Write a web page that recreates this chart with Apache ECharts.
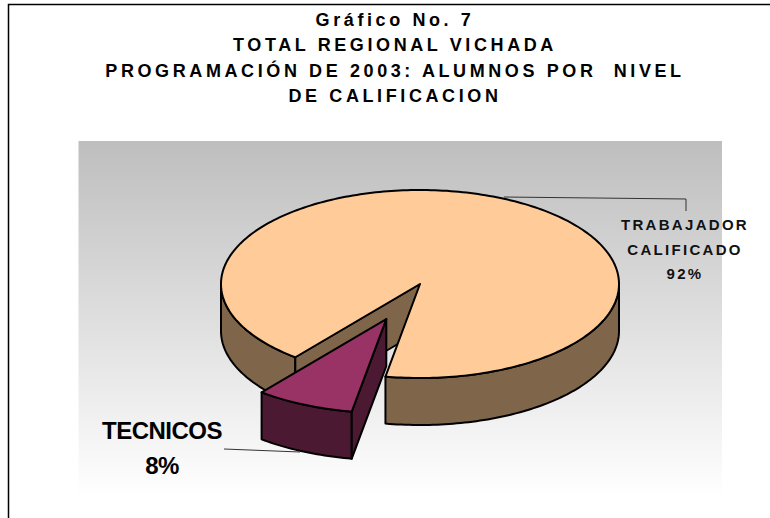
<!DOCTYPE html>
<html><head><meta charset="utf-8">
<style>
html,body{margin:0;padding:0;background:#fff}
#c{width:770px;height:518px}
text[style*="18px"]{letter-spacing:3.6px}
text[style*="15px"]{letter-spacing:2.3px}
text[style*="24px"]{letter-spacing:-0.5px}
</style>
<script src="https://cdn.jsdelivr.net/npm/echarts@6/dist/echarts.min.js"></script>
</head><body><div id="c"></div>
<script>
const titleLines = ['Gráfico No. 7','TOTAL REGIONAL VICHADA','PROGRAMACIÓN DE 2003: ALUMNOS POR  NIVEL','DE CALIFICACION'];
const categories = ['TRABAJADOR\nCALIFICADO','TECNICOS'];
const values = [92, 8];
const total = values.reduce((a,b)=>a+b,0);
const topColors = ['#FFCC99','#993366'];
const sideColors = ['#7F6549','#4C1933'];
const startDeg = 10;   // slice 2 starts this far clockwise from the front of the pie
const depth = 0.5, explode = 0.41;

const sweep = values[1]/total*360;
const a0 = startDeg*Math.PI/180, a1 = (startDeg+sweep)*Math.PI/180, am=(a0+a1)/2;
const P = (api,t,o,z)=>{ // t clockwise from front; o explode offset; z drop
  const x = o*-Math.sin(am) - Math.sin(t);
  const y = -(o*Math.cos(am) + Math.cos(t)) - z;
  return api.coord([x,y]);
};
const arc=(api,from,to,o,z)=>{const n=Math.max(2,Math.round(Math.abs(to-from)/0.02));const r=[];for(let i=0;i<=n;i++)r.push(P(api,from+(to-from)*i/n,o,z));return r;};
const C=(api,o,z)=>{const x=o*-Math.sin(am),y=-(o*Math.cos(am))-z;return api.coord([x,y]);};
const poly=(points,fill)=>({type:'polygon',shape:{points},style:{fill,stroke:'#000',lineWidth:2,lineJoin:'round'}});

function renderItem(params,api){
  const idx=params.dataIndex;
  const kids=[];
  if(idx===0){
    const right=arc(api,-Math.PI/2,a0,0,0).concat(arc(api,a0,-Math.PI/2,0,depth));
    const left=arc(api,a1,Math.PI/2,0,0).concat(arc(api,Math.PI/2,a1,0,depth));
    kids.push(poly(right,sideColors[0]),poly(left,sideColors[0]));
    kids.push(poly([C(api,0,0),P(api,a1,0,0),P(api,a1,0,depth),C(api,0,depth)],sideColors[0]));
    kids.push(poly([C(api,0,0)].concat(arc(api,a1,a0+2*Math.PI,0,0)),topColors[0]));
  } else {
    const o=explode;
    kids.push(poly(arc(api,a0,a1,o,0).concat(arc(api,a1,a0,o,depth)),sideColors[1]));
    kids.push(poly([C(api,o,0),P(api,a0,o,0),P(api,a0,o,depth),C(api,o,depth)],sideColors[1]));
    kids.push(poly([C(api,o,0)].concat(arc(api,a0,a1,o,0)),topColors[1]));
  }
  return {type:'group',children:kids};
}

const chart=echarts.init(document.getElementById('c'),null,{renderer:'svg',width:770,height:518});
chart.setOption({
  animation:false,
  backgroundColor:'#fff',
  grid:{left:221,top:190,width:398,height:188,containLabel:false},
  xAxis:{type:'value',min:-1,max:1,show:false},
  yAxis:{type:'value',min:-1,max:1,show:false},
  graphic:[
    {type:'rect',z:-10,silent:true,shape:{x:78.5,y:141,width:643.5,height:356},
      style:{fill:new echarts.graphic.LinearGradient(0,0,0,1,[{offset:0,color:'#BEBEBE'},{offset:1,color:'#FFFFFF'}])}},
    {type:'polyline',z:-5,silent:true,shape:{points:[[8.5,518],[8.5,4.5],[770,4.5]]},style:{stroke:'#000',lineWidth:1.5,fill:'none'}},
    {type:'polyline',z:5,silent:true,shape:{points:[[504,197],[686,199],[686,211]]},style:{stroke:'#333',lineWidth:1,fill:'none'}},
    {type:'polyline',z:5,silent:true,shape:{points:[[224,449],[300,452]]},style:{stroke:'#333',lineWidth:1,fill:'none'}},
    ...titleLines.map((t,i)=>({type:'text',z:10,silent:true,x:395,y:20+i*25.3,
      style:{text:t,fill:'#000',font:'bold 18px "Liberation Sans", Arial, sans-serif',align:'center',verticalAlign:'middle'}})),
    {type:'text',z:10,silent:true,x:685,y:249,
      style:{text:categories[0]+'\n'+Math.round(values[0]/total*100)+'%',fill:'#111',font:'bold 15px "Liberation Sans", Arial, sans-serif',align:'center',verticalAlign:'middle',lineHeight:24.5}},
    {type:'text',z:10,silent:true,x:162,y:448,
      style:{text:categories[1]+'\n'+Math.round(values[1]/total*100)+'%',fill:'#000',font:'bold 24px "Liberation Sans", Arial, sans-serif',align:'center',verticalAlign:'middle',lineHeight:35}}
  ],
  series:[{type:'custom',coordinateSystem:'cartesian2d',renderItem,clip:false,silent:true,
    data:categories.map((c,i)=>({name:c.replace('\n',' '),value:[0,0,values[i]]}))}]
});
</script>
</body></html>
